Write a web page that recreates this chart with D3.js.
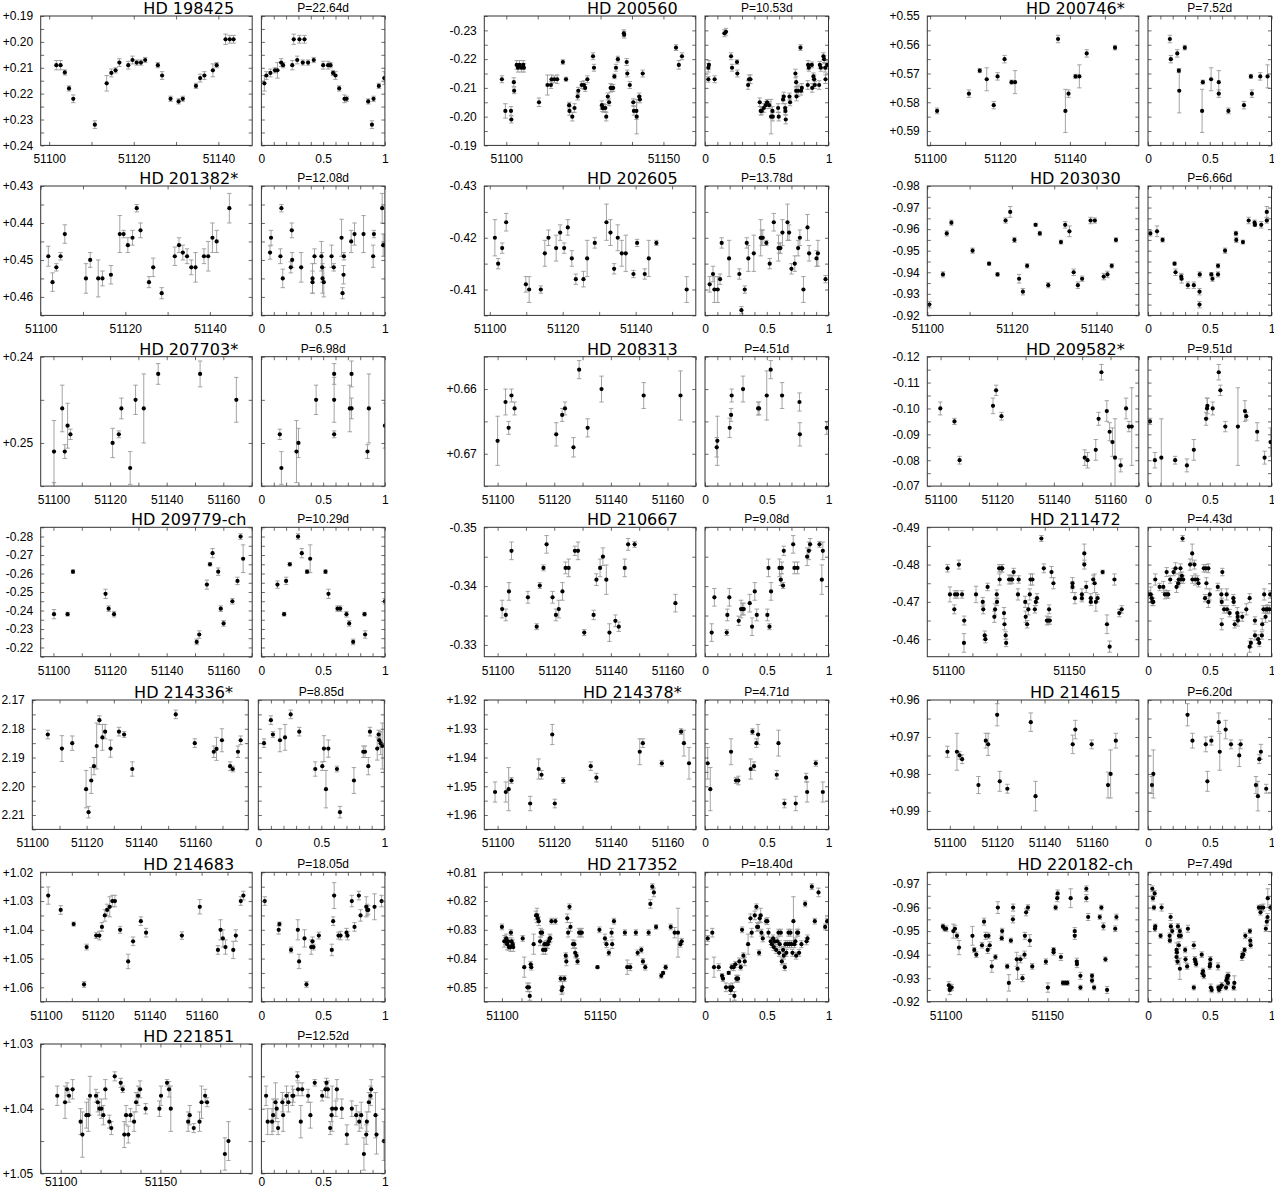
<!DOCTYPE html>
<html>
<head>
<meta charset="utf-8">
<script src="https://cdn.jsdelivr.net/npm/d3@7"></script>
<style>
  body { margin: 0; background: #fff; }
</style>
</head>
<body>
<script>
// star panels, left to right, top to bottom
const starNames = ["HD 198425", "HD 200560", "HD 200746*", "HD 201382*", "HD 202605", "HD 203030",
  "HD 207703*", "HD 208313", "HD 209582*", "HD 209779-ch", "HD 210667", "HD 211472",
  "HD 214336*", "HD 214378*", "HD 214615", "HD 214683", "HD 217352", "HD 220182-ch", "HD 221851"];
const periods = ["22.64", "10.53", "7.52", "12.08", "13.78", "6.66", "6.98", "4.51", "9.51", "10.29",
  "9.08", "4.43", "8.85", "4.71", "6.20", "18.05", "18.40", "7.49", "12.52"];
const dateRanges = [[51098, 51148], [51093, 51160.3], [51099.2, 51159.7], [51100, 51150], [51098.5, 51156.5],
  [51100, 51150], [51095.5, 51170.2], [51095.3, 51170], [51095.3, 51170], [51095.5, 51170.2], [51095.3, 51170],
  [51091.3, 51179], [51100, 51179.5], [51095.3, 51170], [51090.5, 51179.8], [51098, 51179.5], [51091, 51199],
  [51091, 51195], [51090, 51196]];
const magRanges = [[0.19, 0.24], [-0.235, -0.19], [0.55, 0.595], [0.43, 0.465], [-0.43, -0.405],
  [-0.98, -0.92], [0.24, 0.255], [0.655, 0.675], [-0.12, -0.07], [-0.285, -0.215], [-0.35, -0.328],
  [-0.49, -0.4553], [2.17, 2.215], [1.92, 1.965], [0.96, 0.995], [1.02, 1.065], [0.81, 0.855],
  [-0.975, -0.92], [1.03, 1.05]];
const dateLabelSteps = [20, 50, 20, 20, 20, 20, 20, 20, 20, 20, 20, 50, 20, 20, 20, 20, 50, 50, 50];
const unsignedMagStars = ["HD 214336*"];

// [date, mag, err] and [phase, mag, err]
const d198425 = [[51101.7,0.209,0.0018],[51102.7,0.209,0.0018],[51103.7,0.2118,0.001],[51104.7,0.218,0.001],[51105.7,0.222,0.0015],[51110.8,0.232,0.0015],[51113.6,0.216,0.003],[51114.7,0.212,0.0015],[51115.7,0.211,0.001],[51116.6,0.208,0.0015],[51118.7,0.209,0.0015],[51119.7,0.207,0.0015],[51120.7,0.208,0.001],[51121.7,0.208,0.001],[51122.7,0.207,0.001],[51125.7,0.209,0.001],[51126.7,0.213,0.0015],[51128.7,0.222,0.001],[51130.6,0.223,0.001],[51131.6,0.222,0.001],[51134.7,0.217,0.001],[51135.7,0.214,0.0015],[51136.7,0.213,0.0015],[51138.7,0.211,0.0025],[51139.6,0.209,0.001],[51141.7,0.199,0.002],[51142.7,0.199,0.0015],[51143.6,0.199,0.0015]];
const p198425 = [[0.024,0.216,0.003],[0.04,0.213,0.0015],[0.073,0.212,0.0015],[0.11,0.211,0.001],[0.13,0.211,0.003],[0.16,0.208,0.0015],[0.176,0.209,0.001],[0.25,0.209,0.0018],[0.262,0.199,0.002],[0.29,0.207,0.0015],[0.308,0.199,0.0015],[0.335,0.208,0.001],[0.349,0.199,0.0015],[0.378,0.208,0.001],[0.424,0.207,0.001],[0.5,0.209,0.0015],[0.54,0.209,0.0015],[0.56,0.209,0.001],[0.58,0.212,0.001],[0.6,0.213,0.0015],[0.63,0.218,0.001],[0.673,0.222,0.0015],[0.69,0.222,0.001],[0.865,0.223,0.001],[0.895,0.232,0.0015],[0.908,0.222,0.001],[0.951,0.217,0.001],[0.995,0.214,0.0025]];

const d200560 = [[51098.6,-0.213,0.0012],[51099.7,-0.202,0.0025],[51101.5,-0.202,0.0015],[51101.6,-0.199,0.0012],[51102.4,-0.212,0.0015],[51102.5,-0.209,0.001],[51103.3,-0.218,0.0015],[51103.7,-0.217,0.0015],[51104.2,-0.218,0.0015],[51104.8,-0.217,0.0015],[51105.4,-0.218,0.0015],[51105.6,-0.217,0.0015],[51110.4,-0.205,0.0015],[51113.1,-0.211,0.0035],[51114.2,-0.211,0.0012],[51114.4,-0.213,0.0015],[51115.3,-0.213,0.0012],[51116.2,-0.213,0.0015],[51118.0,-0.219,0.0008],[51119.0,-0.213,0.0007],[51120.0,-0.204,0.001],[51120.1,-0.202,0.0015],[51121.0,-0.200,0.0015],[51121.7,-0.203,0.0015],[51122.7,-0.207,0.0012],[51122.9,-0.209,0.0012],[51124.0,-0.211,0.0012],[51124.7,-0.211,0.0015],[51125.1,-0.210,0.0012],[51125.8,-0.213,0.0012],[51127.6,-0.221,0.0012],[51127.9,-0.217,0.0012],[51130.4,-0.204,0.0015],[51130.6,-0.203,0.0012],[51131.0,-0.203,0.0015],[51131.5,-0.203,0.0012],[51131.8,-0.200,0.0015],[51132.3,-0.207,0.0012],[51132.7,-0.205,0.0012],[51133.2,-0.210,0.0015],[51133.6,-0.210,0.0012],[51134.0,-0.210,0.0012],[51134.4,-0.214,0.0008],[51134.9,-0.217,0.0012],[51135.5,-0.220,0.001],[51137.4,-0.229,0.0012],[51137.5,-0.2285,0.0012],[51138.3,-0.219,0.0012],[51138.5,-0.215,0.0012],[51139.3,-0.211,0.0012],[51140.4,-0.205,0.0012],[51140.6,-0.202,0.0015],[51141.4,-0.202,0.003],[51141.5,-0.200,0.006],[51142.3,-0.207,0.0012],[51142.5,-0.206,0.0012],[51143.4,-0.215,0.0012],[51154.0,-0.224,0.001],[51154.9,-0.218,0.0015],[51155.9,-0.221,0.0012]];
const p200560 = [[0.027,-0.217,0.0015],[0.032,-0.218,0.0015],[0.027,-0.213,0.001],[0.078,-0.213,0.0012],[0.157,-0.229,0.0012],[0.17,-0.2295,0.0012],[0.211,-0.221,0.0012],[0.219,-0.217,0.0012],[0.259,-0.219,0.0008],[0.262,-0.215,0.0012],[0.349,-0.211,0.0015],[0.357,-0.213,0.0015],[0.368,-0.213,0.0015],[0.443,-0.205,0.0015],[0.451,-0.202,0.0015],[0.459,-0.202,0.0012],[0.476,-0.203,0.0015],[0.492,-0.204,0.0012],[0.503,-0.205,0.001],[0.519,-0.204,0.0012],[0.535,-0.200,0.006],[0.546,-0.202,0.0015],[0.549,-0.200,0.0015],[0.592,-0.203,0.0015],[0.597,-0.200,0.0015],[0.632,-0.206,0.0015],[0.638,-0.207,0.0015],[0.649,-0.203,0.0015],[0.651,-0.202,0.0012],[0.654,-0.199,0.0015],[0.684,-0.207,0.0012],[0.689,-0.205,0.0012],[0.732,-0.215,0.0015],[0.738,-0.212,0.002],[0.738,-0.209,0.0015],[0.741,-0.207,0.0015],[0.754,-0.209,0.002],[0.773,-0.224,0.001],[0.778,-0.209,0.0015],[0.784,-0.210,0.0015],[0.832,-0.211,0.0015],[0.835,-0.218,0.0015],[0.841,-0.217,0.0012],[0.865,-0.218,0.001],[0.868,-0.210,0.0015],[0.878,-0.214,0.0012],[0.884,-0.213,0.0015],[0.889,-0.211,0.0012],[0.924,-0.211,0.0015],[0.93,-0.218,0.0012],[0.938,-0.217,0.0012],[0.959,-0.221,0.0012],[0.965,-0.220,0.0012],[0.973,-0.217,0.0015],[0.976,-0.213,0.0015],[0.989,-0.218,0.0015]];

const d200746 = [[51102.0,0.583,0.001],[51111.1,0.577,0.0013],[51114.2,0.569,0.0007],[51116.2,0.572,0.004],[51118.2,0.581,0.0013],[51119.3,0.571,0.0013],[51121.3,0.565,0.0013],[51123.3,0.573,0.0007],[51124.3,0.573,0.004],[51136.6,0.558,0.0013],[51138.7,0.583,0.0075],[51139.6,0.577,0.0013],[51141.6,0.571,0.0007],[51142.7,0.571,0.004],[51144.8,0.563,0.0013],[51152.9,0.561,0.0008]];
const p200746 = [[0.177,0.558,0.0013],[0.185,0.565,0.0013],[0.237,0.563,0.0013],[0.25,0.569,0.0007],[0.253,0.576,0.0077],[0.298,0.561,0.0008],[0.438,0.583,0.0075],[0.444,0.573,0.0007],[0.511,0.572,0.004],[0.573,0.577,0.0013],[0.573,0.573,0.004],[0.651,0.583,0.001],[0.777,0.581,0.0013],[0.833,0.571,0.0007],[0.841,0.577,0.0013],[0.909,0.571,0.0013],[0.968,0.571,0.004]];

const d201382 = [[51101.8,0.449,0.0027],[51102.8,0.456,0.0025],[51103.7,0.452,0.001],[51104.7,0.449,0.001],[51105.7,0.443,0.0025],[51110.7,0.455,0.004],[51111.7,0.450,0.002],[51113.6,0.455,0.005],[51114.6,0.455,0.002],[51116.6,0.454,0.0025],[51118.7,0.443,0.005],[51119.6,0.443,0.001],[51120.6,0.446,0.002],[51121.7,0.444,0.002],[51122.7,0.436,0.001],[51123.6,0.442,0.002],[51125.6,0.456,0.0015],[51126.6,0.452,0.0025],[51128.6,0.459,0.0015],[51131.7,0.449,0.0025],[51132.7,0.446,0.002],[51133.6,0.448,0.002],[51134.6,0.449,0.002],[51135.6,0.452,0.002],[51136.6,0.452,0.004],[51138.6,0.449,0.002],[51139.6,0.449,0.004],[51140.6,0.444,0.004],[51141.6,0.445,0.003],[51144.6,0.436,0.004]];
const p201382 = [[0.07,0.448,0.0018],[0.078,0.444,0.002],[0.154,0.449,0.002],[0.162,0.436,0.001],[0.173,0.455,0.0025],[0.238,0.452,0.0015],[0.246,0.442,0.002],[0.249,0.450,0.002],[0.322,0.452,0.004],[0.414,0.456,0.003],[0.414,0.455,0.004],[0.43,0.449,0.002],[0.486,0.449,0.004],[0.492,0.452,0.004],[0.495,0.455,0.004],[0.505,0.456,0.004],[0.568,0.449,0.003],[0.586,0.452,0.001],[0.649,0.444,0.005],[0.657,0.459,0.0015],[0.665,0.454,0.0025],[0.668,0.449,0.001],[0.727,0.445,0.003],[0.754,0.443,0.003],[0.827,0.443,0.005],[0.905,0.449,0.003],[0.911,0.443,0.001],[0.978,0.436,0.004],[0.986,0.446,0.003],[0.997,0.446,0.003]];

const d202605 = [[51101.4,-0.420,0.0035],[51102.3,-0.415,0.001],[51103.4,-0.418,0.001],[51104.5,-0.423,0.0017],[51109.9,-0.411,0.0015],[51110.8,-0.410,0.0025],[51114.0,-0.410,0.0007],[51115.1,-0.417,0.0025],[51116.1,-0.420,0.0015],[51118.2,-0.418,0.0025],[51119.3,-0.421,0.0015],[51120.4,-0.418,0.001],[51121.4,-0.422,0.0015],[51122.5,-0.416,0.0015],[51123.6,-0.412,0.001],[51125.7,-0.412,0.0015],[51126.7,-0.416,0.0035],[51128.8,-0.419,0.001],[51132.0,-0.423,0.0035],[51133.1,-0.421,0.0025],[51134.1,-0.414,0.001],[51135.1,-0.420,0.0025],[51136.2,-0.417,0.0025],[51137.3,-0.417,0.0035],[51139.4,-0.413,0.0007],[51140.4,-0.419,0.0007],[51142.5,-0.413,0.001],[51143.6,-0.416,0.0035],[51145.7,-0.419,0.0005],[51154.0,-0.410,0.0025]];
const p202605 = [[0.038,-0.411,0.0015],[0.065,-0.413,0.0015],[0.076,-0.410,0.0025],[0.103,-0.410,0.0025],[0.122,-0.412,0.001],[0.135,-0.419,0.001],[0.195,-0.416,0.0035],[0.278,-0.413,0.001],[0.295,-0.406,0.0007],[0.322,-0.410,0.0007],[0.338,-0.419,0.001],[0.351,-0.416,0.0025],[0.395,-0.417,0.0035],[0.451,-0.420,0.0035],[0.459,-0.420,0.0015],[0.468,-0.420,0.0015],[0.497,-0.419,0.0005],[0.524,-0.415,0.001],[0.557,-0.423,0.0017],[0.595,-0.418,0.0025],[0.6,-0.418,0.001],[0.611,-0.418,0.001],[0.627,-0.421,0.0025],[0.668,-0.423,0.0035],[0.681,-0.421,0.0015],[0.7,-0.414,0.001],[0.727,-0.415,0.0015],[0.754,-0.418,0.0015],[0.768,-0.420,0.0015],[0.797,-0.410,0.0025],[0.83,-0.422,0.0025],[0.843,-0.417,0.0015],[0.903,-0.416,0.0015],[0.914,-0.417,0.0025],[0.976,-0.412,0.0007]];

const d203030 = [[51100.5,-0.925,0.0015],[51103.7,-0.939,0.0012],[51104.6,-0.958,0.0012],[51105.7,-0.963,0.0012],[51110.7,-0.950,0.0012],[51114.6,-0.944,0.0007],[51116.6,-0.939,0.0008],[51118.5,-0.964,0.0012],[51119.6,-0.968,0.0025],[51120.6,-0.955,0.0012],[51121.7,-0.937,0.002],[51122.6,-0.931,0.0015],[51123.6,-0.943,0.001],[51125.6,-0.962,0.0007],[51126.6,-0.958,0.001],[51128.6,-0.934,0.0012],[51131.6,-0.954,0.0009],[51132.6,-0.962,0.0015],[51133.6,-0.959,0.0025],[51134.6,-0.940,0.0015],[51135.6,-0.934,0.0015],[51136.6,-0.937,0.0012],[51138.6,-0.964,0.0015],[51139.6,-0.964,0.0012],[51141.7,-0.938,0.0015],[51142.6,-0.939,0.0015],[51143.6,-0.943,0.001],[51144.6,-0.955,0.001]];
const p203030 = [[0.019,-0.958,0.0012],[0.073,-0.959,0.0025],[0.118,-0.955,0.001],[0.215,-0.944,0.0007],[0.223,-0.940,0.0015],[0.269,-0.938,0.0015],[0.272,-0.937,0.002],[0.323,-0.934,0.0015],[0.371,-0.934,0.0015],[0.417,-0.925,0.0015],[0.417,-0.931,0.0015],[0.419,-0.939,0.0012],[0.513,-0.939,0.0008],[0.522,-0.937,0.0012],[0.567,-0.943,0.001],[0.567,-0.939,0.0012],[0.624,-0.950,0.0012],[0.712,-0.958,0.001],[0.715,-0.955,0.0012],[0.769,-0.954,0.0009],[0.815,-0.964,0.0015],[0.863,-0.963,0.0012],[0.866,-0.962,0.0007],[0.917,-0.962,0.0015],[0.962,-0.964,0.0012],[0.962,-0.968,0.0025]];

const d207703 = [[51100.2,0.251,0.0036],[51103.1,0.246,0.0027],[51104.0,0.251,0.0008],[51105.0,0.248,0.0026],[51106.0,0.249,0.0006],[51120.9,0.250,0.0017],[51123.1,0.249,0.0004],[51124.0,0.246,0.0012],[51127.1,0.2529,0.0019],[51129.0,0.245,0.0017],[51131.9,0.246,0.004],[51137.0,0.242,0.0012],[51151.8,0.242,0.0015],[51164.6,0.245,0.0026]];
const p207703 = [[0.149,0.249,0.0006],[0.162,0.2529,0.0019],[0.284,0.251,0.0036],[0.30,0.250,0.0017],[0.443,0.245,0.0017],[0.589,0.242,0.0012],[0.589,0.245,0.0026],[0.589,0.249,0.0004],[0.716,0.246,0.0027],[0.73,0.246,0.0012],[0.73,0.242,0.0015],[0.859,0.251,0.0008],[0.87,0.246,0.004],[1.0,0.248,0.0026]];

const d208313 = [[51100.0,0.668,0.0038],[51102.8,0.662,0.002],[51103.9,0.666,0.001],[51104.9,0.661,0.001],[51106.0,0.663,0.001],[51120.7,0.667,0.0018],[51122.8,0.664,0.001],[51123.8,0.663,0.001],[51126.8,0.669,0.0015],[51128.8,0.657,0.0014],[51131.8,0.666,0.0014],[51136.7,0.660,0.002],[51151.6,0.661,0.002],[51164.6,0.661,0.0038]];
const p208313 = [[0.095,0.669,0.0015],[0.1,0.668,0.0038],[0.2,0.666,0.0015],[0.211,0.664,0.001],[0.216,0.661,0.001],[0.308,0.660,0.002],[0.43,0.663,0.001],[0.438,0.663,0.001],[0.5,0.661,0.0038],[0.532,0.657,0.0014],[0.624,0.661,0.002],[0.765,0.662,0.0014],[0.768,0.667,0.0018],[0.986,0.666,0.001]];

const d209582 = [[51099.9,-0.100,0.0025],[51104.9,-0.095,0.0012],[51106.7,-0.080,0.0015],[51118.5,-0.101,0.003],[51119.6,-0.107,0.002],[51121.5,-0.097,0.0015],[51150.9,-0.081,0.003],[51151.9,-0.080,0.003],[51154.8,-0.084,0.004],[51155.8,-0.096,0.0025],[51156.8,-0.114,0.003],[51158.7,-0.099,0.004],[51159.7,-0.091,0.0035],[51160.7,-0.087,0.0055],[51161.6,-0.081,0.015],[51163.6,-0.078,0.0025],[51165.5,-0.100,0.004],[51166.5,-0.093,0.002],[51167.5,-0.093,0.015]];
const p209582 = [[0.016,-0.095,0.0012],[0.056,-0.080,0.003],[0.108,-0.081,0.015],[0.22,-0.080,0.0015],[0.315,-0.078,0.0025],[0.371,-0.084,0.004],[0.47,-0.096,0.0025],[0.478,-0.100,0.004],[0.481,-0.101,0.003],[0.524,-0.100,0.0025],[0.573,-0.114,0.003],[0.586,-0.107,0.002],[0.626,-0.093,0.002],[0.728,-0.093,0.015],[0.785,-0.099,0.004],[0.796,-0.097,0.0015],[0.884,-0.091,0.0035],[0.944,-0.081,0.0025],[0.992,-0.087,0.0055]];

const d209779 = [[51100.2,-0.238,0.0025],[51105.0,-0.238,0.001],[51106.9,-0.261,0.001],[51118.4,-0.249,0.0025],[51119.5,-0.241,0.0015],[51121.4,-0.238,0.0015],[51150.6,-0.223,0.0015],[51151.5,-0.227,0.002],[51154.2,-0.254,0.0025],[51155.3,-0.265,0.001],[51156.2,-0.271,0.0025],[51158.2,-0.261,0.002],[51159.1,-0.241,0.0015],[51160.1,-0.233,0.0015],[51163.2,-0.245,0.0015],[51165.0,-0.256,0.002],[51166.1,-0.280,0.0015],[51167.0,-0.268,0.0075]];
const p209779 = [[0.13,-0.254,0.002],[0.184,-0.238,0.001],[0.2,-0.256,0.002],[0.23,-0.265,0.001],[0.297,-0.280,0.0015],[0.327,-0.271,0.0025],[0.37,-0.261,0.001],[0.395,-0.268,0.0075],[0.519,-0.261,0.001],[0.543,-0.249,0.0025],[0.616,-0.241,0.0015],[0.638,-0.241,0.0015],[0.689,-0.238,0.0015],[0.711,-0.233,0.0015],[0.743,-0.223,0.0015],[0.835,-0.238,0.001],[0.84,-0.227,0.002],[1.0,-0.245,0.0015]];

const d210667 = [[51101.6,-0.3361,0.0015],[51102.9,-0.3351,0.001],[51104.0,-0.3391,0.0015],[51104.9,-0.346,0.0015],[51110.7,-0.3381,0.001],[51113.8,-0.3331,0.0005],[51114.9,-0.3401,0.0005],[51116.2,-0.3431,0.0005],[51117.3,-0.3471,0.0015],[51119.4,-0.3381,0.001],[51120.6,-0.3351,0.001],[51121.6,-0.3361,0.0015],[51122.9,-0.3391,0.0015],[51124.0,-0.3431,0.001],[51125.1,-0.3431,0.0015],[51127.3,-0.346,0.0008],[51128.4,-0.346,0.0015],[51130.6,-0.3321,0.0005],[51133.9,-0.3351,0.0008],[51134.9,-0.3411,0.001],[51136.2,-0.3431,0.0015],[51137.2,-0.345,0.0015],[51138.4,-0.3411,0.0025],[51139.5,-0.3321,0.0015],[51141.6,-0.3341,0.001],[51142.8,-0.3331,0.0008],[51144.9,-0.3431,0.0015],[51146.1,-0.3471,0.001],[51148.4,-0.3471,0.0005],[51162.8,-0.3371,0.0015]];
const p210667 = [[0.054,-0.3321,0.0015],[0.076,-0.3381,0.0015],[0.176,-0.3321,0.0005],[0.181,-0.3351,0.001],[0.197,-0.3381,0.0015],[0.273,-0.3341,0.0008],[0.292,-0.3361,0.0015],[0.303,-0.3361,0.001],[0.314,-0.3361,0.001],[0.362,-0.3371,0.0015],[0.381,-0.3331,0.0015],[0.403,-0.3391,0.0015],[0.419,-0.3351,0.001],[0.505,-0.3351,0.001],[0.514,-0.3431,0.0015],[0.522,-0.3331,0.0005],[0.535,-0.3391,0.0015],[0.603,-0.3431,0.0015],[0.614,-0.3411,0.001],[0.622,-0.3431,0.001],[0.632,-0.3401,0.0005],[0.638,-0.346,0.0008],[0.714,-0.3471,0.0015],[0.724,-0.3431,0.001],[0.749,-0.3431,0.001],[0.827,-0.345,0.0015],[0.841,-0.346,0.0015],[0.851,-0.3471,0.001],[0.927,-0.3471,0.0005],[0.946,-0.3411,0.0025],[0.954,-0.346,0.0015]];

const d211472 = [[51099.7,-0.479,0.001],[51100.7,-0.472,0.002],[51102.5,-0.468,0.0012],[51102.8,-0.472,0.001],[51103.7,-0.472,0.001],[51104.4,-0.480,0.0012],[51105.7,-0.472,0.001],[51106.6,-0.465,0.0012],[51106.5,-0.459,0.0025],[51111.5,-0.472,0.0022],[51114.3,-0.470,0.0012],[51114.5,-0.468,0.0012],[51115.1,-0.461,0.0012],[51115.4,-0.460,0.001],[51116.3,-0.474,0.001],[51119.1,-0.466,0.0015],[51119.4,-0.468,0.0015],[51120.1,-0.472,0.0012],[51120.2,-0.470,0.001],[51121.1,-0.479,0.001],[51121.3,-0.476,0.0015],[51122.0,-0.479,0.001],[51122.4,-0.479,0.001],[51123.1,-0.467,0.0015],[51123.3,-0.464,0.0015],[51123.8,-0.461,0.001],[51124.0,-0.459,0.001],[51125.2,-0.476,0.0012],[51126.0,-0.476,0.0012],[51126.5,-0.476,0.001],[51127.1,-0.478,0.001],[51128.9,-0.472,0.0015],[51129.2,-0.476,0.001],[51131.9,-0.470,0.0015],[51132.1,-0.466,0.0015],[51132.7,-0.464,0.001],[51133.2,-0.468,0.0015],[51133.8,-0.472,0.0015],[51134.1,-0.476,0.0015],[51134.9,-0.476,0.0015],[51135.9,-0.468,0.001],[51136.3,-0.470,0.001],[51136.8,-0.471,0.0012],[51138.6,-0.487,0.0008],[51139.6,-0.479,0.0012],[51140.9,-0.465,0.0012],[51141.4,-0.465,0.001],[51141.8,-0.468,0.0012],[51142.1,-0.465,0.001],[51142.8,-0.478,0.0015],[51143.6,-0.475,0.0015],[51151.5,-0.475,0.0015],[51151.5,-0.474,0.0015],[51152.5,-0.471,0.0015],[51155.4,-0.472,0.0015],[51155.4,-0.471,0.001],[51156.4,-0.483,0.0025],[51156.4,-0.480,0.0012],[51157.2,-0.474,0.0015],[51159.1,-0.471,0.0012],[51159.1,-0.470,0.001],[51160.1,-0.476,0.0012],[51160.7,-0.475,0.0025],[51161.2,-0.470,0.0025],[51161.9,-0.471,0.001],[51164.0,-0.478,0.0005],[51165.8,-0.464,0.0025],[51166.9,-0.458,0.0015],[51168.9,-0.476,0.0015],[51170.9,-0.467,0.001],[51171.9,-0.468,0.001]];
const p211472 = [[0.005,-0.472,0.001],[0.022,-0.472,0.002],[0.03,-0.471,0.001],[0.035,-0.470,0.001],[0.043,-0.470,0.001],[0.059,-0.476,0.0015],[0.094,-0.474,0.001],[0.124,-0.474,0.0015],[0.137,-0.472,0.0012],[0.151,-0.478,0.0012],[0.153,-0.472,0.001],[0.164,-0.472,0.001],[0.18,-0.476,0.001],[0.207,-0.478,0.001],[0.223,-0.479,0.0015],[0.231,-0.474,0.0015],[0.245,-0.475,0.001],[0.25,-0.476,0.0015],[0.263,-0.479,0.0012],[0.266,-0.476,0.001],[0.274,-0.477,0.001],[0.28,-0.487,0.0008],[0.285,-0.476,0.001],[0.341,-0.480,0.0015],[0.358,-0.483,0.0025],[0.36,-0.476,0.001],[0.376,-0.480,0.0012],[0.382,-0.476,0.0015],[0.4,-0.476,0.001],[0.409,-0.475,0.001],[0.452,-0.479,0.001],[0.468,-0.479,0.001],[0.489,-0.479,0.0012],[0.473,-0.475,0.0015],[0.462,-0.471,0.001],[0.489,-0.470,0.0015],[0.5,-0.472,0.0015],[0.565,-0.474,0.001],[0.594,-0.472,0.0015],[0.597,-0.470,0.001],[0.597,-0.464,0.0015],[0.602,-0.478,0.001],[0.616,-0.468,0.001],[0.637,-0.472,0.0015],[0.64,-0.468,0.001],[0.661,-0.467,0.001],[0.691,-0.471,0.001],[0.694,-0.470,0.001],[0.702,-0.464,0.001],[0.723,-0.467,0.0015],[0.726,-0.466,0.001],[0.728,-0.465,0.0015],[0.763,-0.466,0.0012],[0.796,-0.468,0.0015],[0.823,-0.471,0.0012],[0.823,-0.458,0.0015],[0.833,-0.459,0.0012],[0.866,-0.465,0.001],[0.866,-0.461,0.0012],[0.892,-0.460,0.0012],[0.901,-0.459,0.001],[0.922,-0.461,0.001],[0.925,-0.464,0.0015],[0.935,-0.468,0.001],[0.941,-0.472,0.0015],[0.952,-0.466,0.0015],[0.957,-0.468,0.001],[0.968,-0.468,0.0012],[0.984,-0.468,0.001],[0.989,-0.472,0.001]];

const d214336 = [[51105.7,2.182,0.0015],[51110.9,2.1869,0.0045],[51114.7,2.185,0.0025],[51119.8,2.201,0.0065],[51120.7,2.209,0.002],[51121.7,2.198,0.0045],[51122.7,2.193,0.003],[51123.7,2.186,0.008],[51124.7,2.177,0.0015],[51125.8,2.183,0.0045],[51126.8,2.181,0.0025],[51128.8,2.1869,0.003],[51131.9,2.181,0.0015],[51133.8,2.182,0.001],[51136.8,2.194,0.0025],[51152.8,2.175,0.0015],[51159.8,2.185,0.0015],[51166.8,2.188,0.002],[51167.8,2.187,0.004],[51169.8,2.184,0.004],[51172.8,2.193,0.0015],[51173.8,2.194,0.001],[51175.7,2.188,0.002],[51176.7,2.184,0.0015]];
const p214336 = [[0.045,2.185,0.0015],[0.10,2.177,0.0015],[0.116,2.182,0.001],[0.172,2.184,0.004],[0.212,2.183,0.0045],[0.257,2.175,0.0015],[0.325,2.181,0.0015],[0.452,2.194,0.0025],[0.508,2.193,0.0015],[0.521,2.1869,0.0045],[0.537,2.201,0.0065],[0.556,2.1869,0.003],[0.624,2.194,0.001],[0.648,2.209,0.002],[0.759,2.198,0.0045],[0.833,2.188,0.002],[0.847,2.188,0.002],[0.873,2.193,0.003],[0.886,2.181,0.0015],[0.944,2.1869,0.004],[0.955,2.182,0.0015],[0.96,2.184,0.0025],[0.971,2.185,0.004],[0.984,2.186,0.008]];

const d214378 = [[51099.1,1.952,0.0035],[51102.9,1.952,0.0035],[51103.9,1.951,0.0075],[51104.9,1.948,0.001],[51111.5,1.956,0.0025],[51114.5,1.944,0.0035],[51115.5,1.946,0.0015],[51119.3,1.932,0.0035],[51120.2,1.956,0.0015],[51123.2,1.948,0.001],[51132.9,1.943,0.0015],[51134.9,1.947,0.0015],[51150.2,1.938,0.0045],[51151.3,1.935,0.0015],[51158.0,1.942,0.001],[51164.8,1.931,0.001],[51165.8,1.935,0.0045],[51167.6,1.942,0.0055]];
const p214378 = [[0.022,1.942,0.0055],[0.043,1.951,0.0075],[0.211,1.938,0.0045],[0.251,1.948,0.001],[0.27,1.948,0.0015],[0.37,1.944,0.0035],[0.384,1.931,0.001],[0.397,1.943,0.0015],[0.416,1.935,0.0015],[0.43,1.932,0.0035],[0.581,1.946,0.0015],[0.595,1.935,0.0045],[0.643,1.956,0.0015],[0.735,1.956,0.0025],[0.819,1.947,0.0015],[0.827,1.952,0.0035],[0.897,1.942,0.001],[0.954,1.952,0.0035]];

const d214615 = [[51099.0,0.974,0.0015],[51103.0,0.974,0.005],[51104.1,0.975,0.001],[51105.2,0.976,0.0012],[51112.1,0.983,0.0023],[51115.2,0.971,0.002],[51116.2,0.972,0.003],[51120.0,0.964,0.003],[51121.1,0.982,0.0027],[51124.3,0.984,0.0012],[51134.2,0.966,0.0025],[51136.2,0.986,0.004],[51151.9,0.972,0.0025],[51153.0,0.968,0.0025],[51159.9,0.972,0.0012],[51166.8,0.983,0.0035],[51167.9,0.980,0.0065],[51170.1,0.971,0.002]];
const p214615 = [[0.032,0.983,0.0023],[0.043,0.980,0.0065],[0.32,0.964,0.003],[0.36,0.971,0.002],[0.468,0.972,0.002],[0.481,0.982,0.0027],[0.513,0.971,0.0012],[0.573,0.966,0.0025],[0.581,0.974,0.005],[0.629,0.968,0.0025],[0.672,0.972,0.0012],[0.739,0.975,0.003],[0.75,0.972,0.0012],[0.874,0.983,0.0023],[0.89,0.986,0.004],[0.901,0.976,0.0012],[0.914,0.974,0.002],[0.957,0.984,0.0012]];

const d214683 = [[51100.9,1.0281,0.003],[51105.7,1.0331,0.0015],[51110.7,1.038,0.0007],[51114.7,1.059,0.001],[51115.7,1.046,0.001],[51119.4,1.042,0.001],[51120.6,1.042,0.0015],[51121.6,1.039,0.0015],[51122.7,1.035,0.002],[51123.6,1.0331,0.002],[51124.6,1.032,0.0035],[51125.6,1.030,0.002],[51126.6,1.030,0.002],[51128.6,1.040,0.0012],[51131.7,1.051,0.0025],[51133.6,1.044,0.0015],[51136.6,1.037,0.0015],[51138.6,1.041,0.0015],[51152.4,1.042,0.0013],[51159.3,1.032,0.0025],[51166.3,1.047,0.0015],[51167.3,1.040,0.0035],[51168.2,1.043,0.003],[51169.2,1.046,0.0025],[51172.2,1.047,0.003],[51173.2,1.042,0.002],[51175.1,1.030,0.0015],[51176.1,1.0281,0.0015]];
const p214683 = [[0.027,1.030,0.0015],[0.14,1.040,0.0015],[0.146,1.038,0.0007],[0.24,1.047,0.001],[0.295,1.040,0.0035],[0.305,1.051,0.0025],[0.349,1.043,0.003],[0.365,1.059,0.001],[0.403,1.046,0.0025],[0.414,1.044,0.0015],[0.422,1.046,0.001],[0.465,1.042,0.0012],[0.57,1.047,0.002],[0.581,1.037,0.0015],[0.589,1.0281,0.0045],[0.624,1.042,0.0012],[0.641,1.042,0.0015],[0.689,1.041,0.0015],[0.697,1.042,0.0015],[0.732,1.030,0.002],[0.754,1.039,0.0015],[0.789,1.0281,0.0015],[0.803,1.035,0.002],[0.849,1.032,0.0035],[0.857,1.0331,0.002],[0.865,1.0331,0.0015],[0.916,1.032,0.0045],[0.973,1.030,0.002]];

const d217352 = [[51100.0,0.829,0.001],[51101.2,0.834,0.002],[51101.7,0.834,0.0012],[51102.2,0.833,0.0015],[51102.7,0.835,0.002],[51103.2,0.834,0.0012],[51103.6,0.836,0.001],[51104.4,0.836,0.0015],[51104.6,0.831,0.001],[51104.9,0.834,0.0012],[51105.5,0.835,0.0015],[51105.8,0.836,0.0015],[51110.6,0.833,0.001],[51111.4,0.843,0.0035],[51113.0,0.850,0.0015],[51113.8,0.850,0.0015],[51114.2,0.853,0.0015],[51114.7,0.842,0.001],[51115.0,0.843,0.001],[51116.2,0.835,0.0035],[51117.4,0.825,0.0015],[51117.9,0.825,0.0025],[51118.3,0.826,0.0015],[51118.8,0.827,0.0015],[51119.5,0.834,0.0015],[51119.8,0.831,0.0015],[51120.5,0.831,0.001],[51121.0,0.837,0.0015],[51121.7,0.835,0.001],[51122.2,0.837,0.0015],[51122.7,0.835,0.0012],[51123.4,0.835,0.0015],[51123.9,0.834,0.0012],[51124.4,0.833,0.0015],[51124.7,0.833,0.0012],[51125.3,0.827,0.001],[51127.3,0.827,0.001],[51130.0,0.847,0.001],[51130.5,0.851,0.0015],[51130.9,0.850,0.002],[51131.9,0.847,0.001],[51132.6,0.839,0.001],[51132.9,0.841,0.0015],[51133.4,0.826,0.0015],[51133.8,0.831,0.0015],[51134.5,0.822,0.001],[51135.0,0.829,0.0015],[51136.3,0.835,0.0015],[51137.0,0.835,0.0012],[51137.4,0.838,0.0015],[51138.1,0.839,0.001],[51138.6,0.841,0.001],[51139.4,0.831,0.0015],[51140.1,0.831,0.0012],[51140.8,0.831,0.0015],[51148.8,0.843,0.0005],[51149.8,0.830,0.001],[51152.6,0.833,0.0015],[51153.4,0.835,0.0012],[51154.6,0.838,0.001],[51156.0,0.831,0.0015],[51156.3,0.835,0.0015],[51157.2,0.827,0.001],[51162.8,0.831,0.001],[51164.0,0.843,0.0025],[51165.5,0.843,0.0012],[51168.4,0.831,0.001],[51169.3,0.838,0.001],[51171.2,0.837,0.001],[51172.0,0.841,0.001],[51173.2,0.843,0.001],[51174.9,0.831,0.001],[51175.8,0.821,0.0015],[51176.8,0.815,0.001],[51177.6,0.817,0.0015],[51178.7,0.829,0.0008],[51181.4,0.846,0.0008],[51182.3,0.845,0.0005],[51183.6,0.843,0.0008],[51186.2,0.829,0.001],[51188.2,0.831,0.0018],[51189.9,0.831,0.0085],[51191.1,0.835,0.001],[51191.8,0.834,0.001]];
const p217352 = [[0.022,0.833,0.001],[0.059,0.831,0.0015],[0.073,0.843,0.0035],[0.111,0.843,0.0012],[0.138,0.846,0.0008],[0.146,0.847,0.001],[0.17,0.850,0.0015],[0.192,0.845,0.0005],[0.203,0.850,0.0012],[0.208,0.851,0.0015],[0.216,0.843,0.001],[0.222,0.850,0.0015],[0.232,0.843,0.0012],[0.238,0.853,0.0015],[0.246,0.842,0.001],[0.254,0.847,0.0012],[0.259,0.847,0.001],[0.268,0.847,0.0012],[0.278,0.841,0.0012],[0.289,0.843,0.001],[0.3,0.830,0.001],[0.311,0.839,0.001],[0.322,0.841,0.0015],[0.349,0.835,0.0035],[0.368,0.826,0.0015],[0.378,0.831,0.0015],[0.403,0.825,0.0015],[0.416,0.822,0.001],[0.422,0.829,0.0015],[0.43,0.829,0.0012],[0.438,0.838,0.001],[0.443,0.826,0.0012],[0.451,0.825,0.0025],[0.457,0.831,0.0012],[0.468,0.833,0.0012],[0.495,0.827,0.001],[0.505,0.827,0.0012],[0.514,0.831,0.0015],[0.532,0.834,0.0012],[0.541,0.835,0.0012],[0.551,0.833,0.0012],[0.557,0.836,0.0012],[0.565,0.834,0.0012],[0.576,0.837,0.0012],[0.586,0.834,0.0012],[0.595,0.831,0.0012],[0.6,0.838,0.0012],[0.605,0.835,0.0012],[0.614,0.831,0.0012],[0.622,0.841,0.0012],[0.632,0.837,0.0012],[0.638,0.839,0.0012],[0.646,0.843,0.0012],[0.651,0.835,0.0012],[0.659,0.838,0.0012],[0.668,0.835,0.0012],[0.676,0.831,0.0012],[0.684,0.835,0.0012],[0.692,0.831,0.0012],[0.7,0.835,0.0012],[0.708,0.838,0.0012],[0.716,0.827,0.0085],[0.724,0.835,0.0012],[0.732,0.834,0.0012],[0.738,0.839,0.0012],[0.746,0.831,0.0012],[0.754,0.831,0.0012],[0.762,0.838,0.0012],[0.781,0.835,0.0012],[0.822,0.834,0.0012],[0.83,0.833,0.0012],[0.811,0.821,0.001],[0.865,0.815,0.001],[0.889,0.827,0.001],[0.919,0.817,0.0015],[0.973,0.829,0.001],[0.989,0.827,0.001]];

const d220182 = [[51098.7,-0.952,0.001],[51099.5,-0.951,0.001],[51100.3,-0.951,0.0012],[51101.6,-0.927,0.0015],[51102.0,-0.925,0.002],[51102.3,-0.926,0.0015],[51103.0,-0.926,0.0012],[51103.8,-0.950,0.003],[51104.6,-0.951,0.0015],[51105.6,-0.948,0.0012],[51106.6,-0.943,0.003],[51113.2,-0.948,0.004],[51114.1,-0.942,0.001],[51115.1,-0.940,0.0012],[51117.9,-0.944,0.0012],[51118.9,-0.954,0.0015],[51119.7,-0.948,0.0015],[51120.7,-0.942,0.0015],[51121.1,-0.948,0.0012],[51121.7,-0.944,0.0015],[51122.7,-0.935,0.0025],[51124.5,-0.939,0.001],[51125.7,-0.960,0.0025],[51127.6,-0.947,0.001],[51127.8,-0.950,0.0012],[51130.3,-0.935,0.001],[51131.1,-0.928,0.0035],[51132.1,-0.946,0.001],[51133.1,-0.955,0.0015],[51133.2,-0.960,0.0015],[51135.0,-0.938,0.003],[51135.4,-0.934,0.0045],[51136.8,-0.938,0.0015],[51137.8,-0.930,0.0015],[51138.8,-0.940,0.0015],[51139.0,-0.948,0.0015],[51139.6,-0.958,0.0015],[51140.5,-0.960,0.0012],[51141.4,-0.946,0.0025],[51142.6,-0.935,0.0012],[51149.3,-0.937,0.0012],[51150.3,-0.926,0.002],[51153.1,-0.942,0.001],[51153.1,-0.941,0.0012],[51154.1,-0.960,0.001],[51154.9,-0.964,0.0015],[51155.1,-0.966,0.0015],[51156.7,-0.939,0.0015],[51157.7,-0.928,0.001],[51158.9,-0.928,0.001],[51159.9,-0.928,0.001],[51161.5,-0.964,0.004],[51163.5,-0.950,0.0015],[51163.5,-0.948,0.0015],[51164.5,-0.937,0.0015],[51164.6,-0.936,0.0015],[51166.3,-0.931,0.0015],[51166.3,-0.926,0.001],[51169.2,-0.968,0.0012],[51169.2,-0.964,0.0015],[51170.1,-0.956,0.0015],[51172.0,-0.931,0.001],[51172.0,-0.929,0.001],[51173.0,-0.926,0.001],[51175.8,-0.956,0.001],[51176.6,-0.960,0.001],[51177.6,-0.952,0.0015],[51178.6,-0.938,0.001],[51179.4,-0.925,0.0015],[51183.4,-0.951,0.0012],[51184.0,-0.956,0.0012]];
const p220182 = [[0.035,-0.968,0.0012],[0.04,-0.964,0.0012],[0.048,-0.960,0.001],[0.054,-0.966,0.0012],[0.056,-0.951,0.0012],[0.059,-0.952,0.001],[0.11,-0.960,0.0015],[0.102,-0.948,0.001],[0.175,-0.948,0.0012],[0.177,-0.946,0.001],[0.183,-0.956,0.0015],[0.185,-0.952,0.0012],[0.196,-0.950,0.0012],[0.231,-0.942,0.003],[0.231,-0.939,0.0015],[0.234,-0.941,0.0012],[0.239,-0.937,0.0012],[0.242,-0.952,0.0012],[0.25,-0.944,0.0015],[0.25,-0.948,0.0012],[0.258,-0.934,0.0045],[0.258,-0.950,0.0012],[0.266,-0.948,0.0012],[0.301,-0.942,0.0012],[0.304,-0.938,0.0012],[0.317,-0.935,0.0012],[0.323,-0.951,0.0015],[0.371,-0.926,0.001],[0.371,-0.944,0.0015],[0.379,-0.938,0.0012],[0.384,-0.937,0.0012],[0.39,-0.936,0.0012],[0.435,-0.940,0.0012],[0.441,-0.932,0.0012],[0.446,-0.933,0.0012],[0.452,-0.931,0.0012],[0.503,-0.936,0.0012],[0.505,-0.938,0.0012],[0.508,-0.926,0.0015],[0.516,-0.925,0.0012],[0.5,-0.935,0.0012],[0.567,-0.935,0.0015],[0.57,-0.926,0.001],[0.575,-0.925,0.0012],[0.586,-0.926,0.0012],[0.597,-0.927,0.0012],[0.632,-0.926,0.001],[0.634,-0.929,0.0015],[0.64,-0.930,0.0012],[0.645,-0.931,0.0012],[0.651,-0.931,0.0015],[0.648,-0.928,0.0012],[0.694,-0.926,0.001],[0.699,-0.928,0.003],[0.761,-0.939,0.0015],[0.766,-0.940,0.0012],[0.772,-0.940,0.0012],[0.782,-0.942,0.001],[0.788,-0.948,0.0012],[0.825,-0.950,0.001],[0.828,-0.946,0.0012],[0.831,-0.944,0.0012],[0.898,-0.960,0.001],[0.911,-0.958,0.0012],[0.917,-0.960,0.0012],[0.933,-0.960,0.0015],[0.954,-0.951,0.0012],[0.962,-0.954,0.0015],[0.968,-0.956,0.0015],[0.97,-0.964,0.004],[0.992,-0.960,0.0012]];

const d221851 = [[51098.3,1.038,0.0015],[51102.2,1.039,0.0025],[51103.2,1.037,0.001],[51104.2,1.038,0.001],[51106.0,1.037,0.0015],[51110.0,1.042,0.002],[51110.9,1.044,0.0035],[51112.9,1.041,0.002],[51113.9,1.041,0.0025],[51114.7,1.038,0.003],[51117.7,1.038,0.001],[51118.6,1.039,0.0015],[51119.4,1.040,0.001],[51120.4,1.040,0.0015],[51121.4,1.041,0.0015],[51122.4,1.037,0.0015],[51124.4,1.042,0.001],[51125.4,1.043,0.001],[51127.1,1.035,0.0007],[51130.1,1.036,0.0007],[51131.1,1.037,0.0005],[51131.9,1.044,0.002],[51132.8,1.041,0.0015],[51133.9,1.044,0.0013],[51135.0,1.041,0.001],[51136.8,1.042,0.0015],[51137.8,1.039,0.0015],[51138.8,1.038,0.0015],[51139.8,1.037,0.0013],[51142.6,1.040,0.0008],[51149.5,1.040,0.0012],[51150.3,1.038,0.0015],[51153.3,1.036,0.0005],[51154.3,1.037,0.0012],[51155.2,1.040,0.0035],[51163.9,1.042,0.0015],[51164.7,1.041,0.0015],[51166.7,1.043,0.0007],[51169.6,1.042,0.0015],[51170.6,1.039,0.0025],[51172.4,1.038,0.001],[51173.4,1.039,0.0007],[51182.3,1.047,0.0025],[51184.1,1.045,0.003]];
const p221851 = [[0.038,1.038,0.0015],[0.051,1.042,0.002],[0.086,1.042,0.002],[0.095,1.041,0.0025],[0.114,1.039,0.003],[0.124,1.040,0.0015],[0.135,1.043,0.001],[0.17,1.039,0.0015],[0.176,1.041,0.0025],[0.203,1.038,0.0015],[0.219,1.039,0.0015],[0.251,1.038,0.0015],[0.259,1.038,0.001],[0.292,1.035,0.0007],[0.297,1.037,0.001],[0.319,1.042,0.0025],[0.33,1.037,0.001],[0.378,1.038,0.001],[0.397,1.041,0.002],[0.432,1.036,0.0005],[0.492,1.038,0.0008],[0.519,1.037,0.0012],[0.527,1.036,0.0007],[0.538,1.037,0.0013],[0.557,1.043,0.001],[0.568,1.041,0.001],[0.573,1.040,0.0035],[0.603,1.040,0.0012],[0.611,1.037,0.0015],[0.651,1.040,0.0015],[0.692,1.044,0.0015],[0.732,1.040,0.0012],[0.768,1.041,0.0015],[0.792,1.042,0.0015],[0.808,1.041,0.002],[0.83,1.047,0.0025],[0.849,1.044,0.0015],[0.854,1.042,0.0015],[0.87,1.039,0.0015],[0.884,1.038,0.0015],[0.889,1.037,0.0015],[0.924,1.041,0.0035],[0.932,1.044,0.003],[0.992,1.045,0.003]];

const timeSeries = [d198425, d200560, d200746, d201382, d202605, d203030, d207703, d208313, d209582,
  d209779, d210667, d211472, d214336, d214378, d214615, d214683, d217352, d220182, d221851];
const phaseSeries = [p198425, p200560, p200746, p201382, p202605, p203030, p207703, p208313, p209582,
  p209779, p210667, p211472, p214336, p214378, p214615, p214683, p217352, p220182, p221851];

// layout
const W = 1274, H = 1188;
const colLeft = [40.7, 484.3, 927.3];
const rowTop = [16, 186, 356.7, 527.3, 700, 872.3, 1044];
const panelH = 129.4, leftW = 211.5, phaseOffset = 220.7, phaseW = 123.5;
const tickLen = 3.5;
const labelFont = "'Liberation Sans', Arial, Helvetica, sans-serif";
const titleFont = "'DejaVu Sans', 'Liberation Sans', sans-serif";

const svg = d3.select("body").append("svg")
  .attr("width", W)
  .attr("height", H)
  .style("display", "block");
const defs = svg.append("defs");

function magLabel(d, unsigned) {
  const s = Math.abs(d).toFixed(2);
  if (unsigned) return s;
  return (d > 0 ? "+" : d < 0 ? "-" : "") + s;
}

function drawPanel(id, x, y, pts, xTicks, xFmt, yTicks, yFmt, showY, xPad) {
  const [x0, x1] = x.range();
  const [y0, y1] = y.range();
  const g = svg.append("g");

  defs.append("clipPath").attr("id", id)
    .append("rect").attr("x", x0).attr("y", y0).attr("width", x1 - x0).attr("height", y1 - y0);

  const marks = g.append("g").attr("clip-path", `url(#${id})`);
  marks.selectAll("path").data(pts).join("path")
    .attr("d", d => {
      const cx = x(d[0]), a = y(d[1] - d[2]), b = y(d[1] + d[2]);
      return `M${cx},${a}V${b}M${cx - 2.2},${a}H${cx + 2.2}M${cx - 2.2},${b}H${cx + 2.2}`;
    })
    .attr("fill", "none")
    .attr("stroke", "#9a9a9a")
    .attr("stroke-width", 0.9);
  marks.selectAll("circle").data(pts).join("circle")
    .attr("cx", d => x(d[0]))
    .attr("cy", d => y(d[1]))
    .attr("r", 2.1)
    .attr("fill", "#000");

  const axes = [
    [d3.axisBottom(x).tickValues(xTicks).tickFormat(xFmt).tickPadding(xPad), `translate(0,${y1})`],
    [d3.axisTop(x).tickValues(xTicks).tickFormat(""), `translate(0,${y0})`],
    [d3.axisLeft(y).tickValues(yTicks).tickFormat(showY ? yFmt : "").tickPadding(7.5), `translate(${x0},0)`],
    [d3.axisRight(y).tickValues(yTicks).tickFormat(""), `translate(${x1},0)`]
  ];
  axes.forEach(([ax, tr]) => {
    const a = g.append("g").attr("transform", tr)
      .call(ax.tickSizeInner(-tickLen).tickSizeOuter(0));
    a.select(".domain").remove();
    a.selectAll("line").attr("stroke", "#444").attr("stroke-width", 0.8);
    a.attr("font-family", labelFont).attr("font-size", 12);
    a.selectAll("text").attr("fill", "#000");
  });

  g.append("rect")
    .attr("x", x0).attr("y", y0)
    .attr("width", x1 - x0).attr("height", y1 - y0)
    .attr("fill", "none")
    .attr("stroke", "#333")
    .attr("stroke-width", 1);
}

starNames.forEach((name, i) => {
  const col = i % 3, row = Math.floor(i / 3);
  const top = rowTop[row], bottom = top + panelH;
  let lx = colLeft[col], lw = leftW, px = colLeft[col] + phaseOffset, pw = phaseW;
  if (name === "HD 214336*") { lx = 32.3; lw = 216; px = 258.3; pw = 126; }

  const [t0, t1] = dateRanges[i];
  const [m0, m1] = magRanges[i];
  const step = dateLabelSteps[i];
  const unsigned = unsignedMagStars.includes(name);
  // keep bottom-row labels inside the page
  const xPad = Math.min(9.5, H - 2.5 - 8.5 - bottom);

  const x = d3.scaleLinear().domain([t0, t1]).range([lx, lx + lw]);
  const y = d3.scaleLinear().domain([m0, m1]).range([top, bottom]);
  const px0 = d3.scaleLinear().domain([0, 1]).range([px, px + pw]);

  const xTicks = d3.range(Math.ceil(t0 / 10), Math.floor(t1 / 10) + 1).map(k => k * 10);
  const yK = d3.range(Math.ceil(m0 / 0.005 - 1e-6), Math.floor(m1 / 0.005 + 1e-6) + 1);
  const yTicks = yK.map(k => +(k * 0.005).toFixed(4));
  const yFmt = d => (Math.round(d / 0.005) % 2 === 0 ? magLabel(d, unsigned) : "");
  const xFmt = d => (d % step === 0 ? String(d) : "");
  const phTicks = d3.range(0, 11).map(k => k / 10);
  const phFmt = d => (Math.round(d * 10) % 5 === 0 ? String(d) : "");

  drawPanel(`c${i}a`, x, y, timeSeries[i], xTicks, xFmt, yTicks, yFmt, true, xPad);
  drawPanel(`c${i}b`, px0, y, phaseSeries[i], phTicks, phFmt, yTicks, yFmt, false, xPad);

  const title = svg.append("text")
    .attr("x", lx + lw * 0.7)
    .attr("y", top - 2)
    .attr("text-anchor", "middle")
    .attr("font-family", titleFont)
    .attr("font-size", 15)
    .text(name);
  const natural = title.node().getComputedTextLength();
  title.attr("textLength", natural * 1.07).attr("lengthAdjust", "spacingAndGlyphs");

  svg.append("text")
    .attr("x", px + pw / 2)
    .attr("y", top - 4)
    .attr("text-anchor", "middle")
    .attr("font-family", labelFont)
    .attr("font-size", 12)
    .text(`P=${periods[i]}d`);
});
</script>
</body>
</html>
